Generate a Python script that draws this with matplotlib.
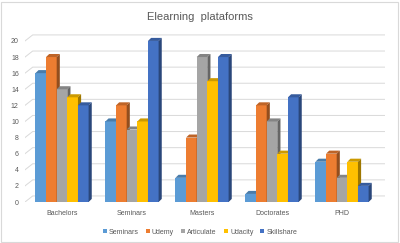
import numpy as np
import matplotlib
matplotlib.use("Agg")
import matplotlib.pyplot as plt
from matplotlib.patches import Polygon, Rectangle, Patch
from matplotlib.colors import to_rgb

categories = ["Bachelors", "Seminars", "Masters", "Doctorates", "PHD"]
series = ["Seminars", "Udemy", "Articulate", "Udacity", "Skillshare"]
seminars = [16, 10, 3, 1, 5]
udemy = [18, 12, 8, 12, 6]
articulate = [14, 9, 18, 10, 3]
udacity = [13, 10, 15, 6, 5]
skillshare = [12, 20, 18, 13, 2]
yticks = list(range(0, 21, 2))

values = [seminars, udemy, articulate, udacity, skillshare]
colors = ["#5B9BD5", "#ED7D31", "#A5A5A5", "#FFC000", "#4472C4"]


def shade(c, f):
    r, g, b = to_rgb(c)
    return (r * f, g * f, b * f)


plt.rcParams['font.family'] = ['Liberation Sans', 'DejaVu Sans']
fig = plt.figure(figsize=(4, 2.43), dpi=100)
ax = fig.add_axes([25 / 400, 41 / 243, 360 / 400, (202 - 32.9) / 243])
ax.set_xlim(-37 / 70, 323 / 70)
ax.set_ylim(0, 21)

# perspective-ish gridlines on the back wall
for v in yticks:
    ax.plot([-37 / 70, -37 / 70 + 0.11, 323 / 70], [v, v + 0.75, v + 0.75],
            color="#D9D9D9", lw=0.7, zorder=0)

w = 0.152
dx = 0.045
dy = 0.38
x = np.arange(len(categories))
handles = []
z = 1
for i, (vals, col) in enumerate(zip(values, colors)):
    xs = x - 2.5 * w + i * w
    for x0, h in zip(xs, vals):
        ax.add_patch(Rectangle((x0, 0), w, h, facecolor=col, edgecolor="none", zorder=z))
        ax.add_patch(Polygon([(x0, h), (x0 + w, h), (x0 + w + dx, h + dy), (x0 + dx, h + dy)],
                             closed=True, facecolor=shade(col, 0.8), edgecolor="none", zorder=z))
        ax.add_patch(Polygon([(x0 + w, 0), (x0 + w + dx, dy), (x0 + w + dx, h + dy), (x0 + w, h)],
                             closed=True, facecolor=shade(col, 0.62), edgecolor="none", zorder=z))
    z += 1
    handles.append(Patch(facecolor=col, edgecolor="none", label=series[i]))

for s in ax.spines.values():
    s.set_visible(False)
ax.set_yticks(yticks)
ax.set_yticklabels([str(v) for v in yticks], fontsize=5, color="#595959")
ax.set_xticks(x)
ax.set_xticklabels(categories, fontsize=5, color="#595959")
ax.tick_params(axis="y", length=0, pad=4.5)
ax.tick_params(axis="x", length=0, pad=5.5)

fig.text(0.5, 1 - 17 / 243, "Elearning  plataforms", ha="center", va="center",
         fontsize=8, color="#595959")

fig.legend(handles=handles, loc="center", bbox_to_anchor=(0.5, 1 - 232 / 243), ncol=5,
           frameon=False, fontsize=5, handlelength=0.6, handleheight=0.6, handletextpad=0.3,
           columnspacing=1.0, labelcolor="#595959")

fig.patches.append(Rectangle((1 / 400, 1 / 243), 397 / 400, 240 / 243, transform=fig.transFigure,
                             fill=False, edgecolor="#D9D9D9", lw=0.8))

fig.savefig("out.png", dpi=100)
